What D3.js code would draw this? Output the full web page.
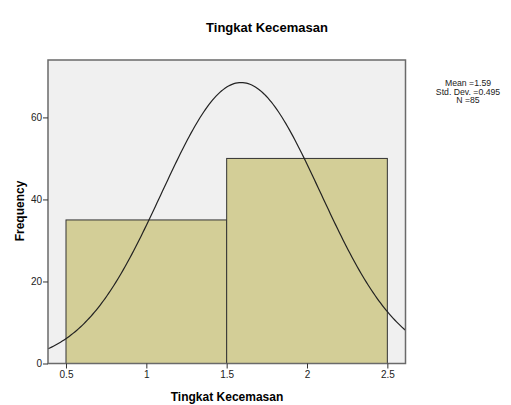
<!DOCTYPE html>
<html>
<head>
<meta charset="utf-8">
<script src="https://cdn.jsdelivr.net/npm/d3@7"></script>
<style>
body { margin: 0; background: #fff; }
svg text { font-family: Arial, "Liberation Sans", sans-serif; }
</style>
</head>
<body>
<div id="chart"></div>
<script>
// Histogram with normal curve

var binStart = [0.5, 1.5];
var binEnd = [1.5, 2.5];
var counts = [35, 50];
var xTicks = [0.5, 1, 1.5, 2, 2.5];
var yTicks = [0, 20, 40, 60];
var statLines = ["Mean =1.59", "Std. Dev. =0.495", "N =85"];

var mean = 1.59, sd = 0.495, n = 85, binWidth = 1;

var width = 511, height = 405;
var plotL = 48, plotR = 405.5, plotT = 60, plotB = 363.5;

var svg = d3.select("#chart").append("svg")
  .attr("width", width)
  .attr("height", height);

var x = d3.scaleLinear().domain([0.388, 2.613]).range([plotL, plotR]);
var y = d3.scaleLinear().domain([0, 74]).range([plotB, plotT]);

// plot background
svg.append("rect")
  .attr("x", plotL).attr("y", plotT)
  .attr("width", plotR - plotL).attr("height", plotB - plotT)
  .attr("fill", "#f0f0f0");

// bars
svg.selectAll(".bar").data(counts).enter().append("rect")
  .attr("class", "bar")
  .attr("x", function (d, i) { return x(binStart[i]); })
  .attr("y", function (d) { return y(d); })
  .attr("width", function (d, i) { return x(binEnd[i]) - x(binStart[i]); })
  .attr("height", function (d) { return y(0) - y(d); })
  .attr("fill", "#d3ce97")
  .attr("stroke", "#333")
  .attr("stroke-width", 1);

// normal curve
var curvePts = d3.range(0, 201).map(function (k) {
  var v = 0.388 + (2.613 - 0.388) * k / 200;
  var z = (v - mean) / sd;
  return [v, n * binWidth * Math.exp(-0.5 * z * z) / (sd * Math.sqrt(2 * Math.PI))];
});
svg.append("path")
  .datum(curvePts)
  .attr("fill", "none")
  .attr("stroke", "#222")
  .attr("stroke-width", 1.2)
  .attr("d", d3.line().x(function (d) { return x(d[0]); }).y(function (d) { return y(d[1]); }));

// frame
svg.append("rect")
  .attr("x", plotL).attr("y", plotT)
  .attr("width", plotR - plotL).attr("height", plotB - plotT)
  .attr("fill", "none")
  .attr("stroke", "#6a6a6a")
  .attr("stroke-width", 1.5);

// axes
var xAxis = svg.append("g")
  .attr("transform", "translate(0," + plotB + ")")
  .call(d3.axisBottom(x).tickValues(xTicks).tickSize(5).tickPadding(2)
    .tickFormat(function (d) { return String(d); }));
var yAxis = svg.append("g")
  .attr("transform", "translate(" + plotL + ",0)")
  .call(d3.axisLeft(y).tickValues(yTicks).tickSize(5).tickPadding(1));

[xAxis, yAxis].forEach(function (a) {
  a.select(".domain").remove();
  a.selectAll("line").attr("stroke", "#333");
  a.selectAll("text").attr("font-size", "10px").attr("fill", "#222")
    .style("font-family", "Arial, 'Liberation Sans', sans-serif");
});

// titles
svg.append("text")
  .attr("x", 267).attr("y", 32)
  .attr("text-anchor", "middle")
  .attr("font-size", "13px").attr("font-weight", "bold")
  .text("Tingkat Kecemasan");

svg.append("text")
  .attr("x", 227).attr("y", 401)
  .attr("text-anchor", "middle")
  .attr("font-size", "12px").attr("font-weight", "bold")
  .text("Tingkat Kecemasan");

svg.append("text")
  .attr("transform", "translate(24,211)rotate(-90)")
  .attr("text-anchor", "middle")
  .attr("font-size", "12px").attr("font-weight", "bold")
  .text("Frequency");

// stats box
svg.selectAll(".stat").data(statLines).enter().append("text")
  .attr("class", "stat")
  .attr("x", 468)
  .attr("y", function (d, i) { return 86 + i * 8.5; })
  .attr("text-anchor", "middle")
  .attr("font-size", "8.7px")
  .attr("fill", "#222")
  .text(function (d) { return d; });
</script>
</body>
</html>
